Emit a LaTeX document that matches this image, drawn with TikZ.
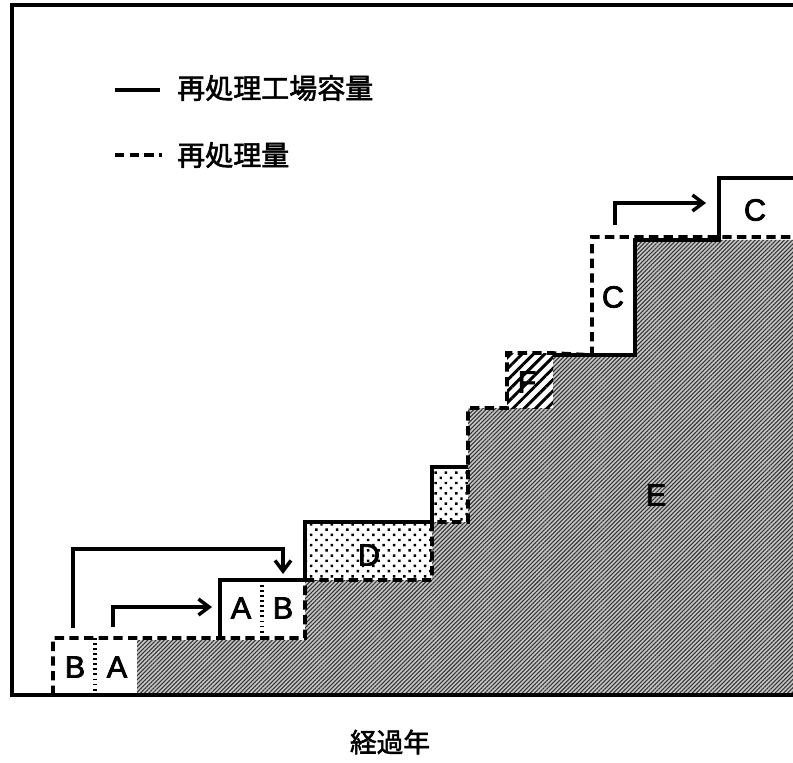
\documentclass[tikz,border=0pt]{standalone}
\usepackage{fontspec}
\setmainfont{Liberation Sans}
\newfontfamily\lat{Liberation Sans}[FakeBold=2.5]
\newfontfamily\cjk{Noto Sans CJK JP}[FakeBold=2]
\usetikzlibrary{patterns.meta,arrows.meta}
\begin{document}
\begin{tikzpicture}[x=0.75pt,y=-0.75pt,
  frame/.style={line width=3pt},
  capline/.style={line width=2.7pt, line join=miter},
  amtline/.style={line width=2.7pt, dash pattern=on 7pt off 4pt},
  divider/.style={line width=2.4pt, dash pattern=on 1.4pt off 2.4pt},
  arr/.style={line width=2.6pt, -{Straight Barb[length=8pt,width=12pt,line width=2.6pt]}},
  letter/.style={font=\lat\fontsize{23}{23}\selectfont, inner sep=0pt},
  jp/.style={font=\cjk\fontsize{21}{21}\selectfont, inner sep=0pt, anchor=west},
]
\useasboundingbox (0,0) rectangle (793,763);

% gray region E
\fill[preaction={fill=gray!45}, pattern={Lines[angle=45,distance=2.2pt,line width=0.8pt]}, pattern color=black!80]
  (137,695) -- (137,640) -- (305,640) -- (305,580) -- (432,580) -- (432,522)
  -- (468,522) -- (468,408) -- (553,408) -- (553,355) -- (635,355) -- (635,240)
  -- (793,240) -- (793,695) -- cycle;

% dotted boxes D and small one
\fill[pattern={Dots[distance=5.5pt,angle=45,radius=1.3pt]}] (305,522) rectangle (432,580);
\fill[pattern={Dots[distance=5.5pt,angle=45,radius=1.3pt]}] (432,467) rectangle (468,522);
% hatched box F
\fill[pattern={Lines[angle=45,distance=6pt,line width=2.2pt]}] (507,353) rectangle (553,408);

% frame
\draw[frame] (793,5) -- (12,5) -- (12,695) -- (793,695);

% capacity (solid)
\draw[capline] (220,638) -- (220,580) -- (305,580) -- (305,522) -- (432,522) -- (432,467) -- (468,467);
\draw[capline] (553,355) -- (635,355) -- (635,240) -- (719,240) -- (719,178) -- (793,178);

% reprocessing amount (dashed)
\draw[amtline] (53,695) -- (53,638) -- (305,638) -- (305,580) -- (432,580) -- (432,522)
  -- (468,522) -- (468,408) -- (507,408) -- (507,353) -- (553,353) -- (592,355) -- (592,237) -- (793,237);

% dividers
\draw[divider] (95,638) -- (95,695);
\draw[divider] (262,580) -- (262,637);

% arrows
\coordinate (a1s) at (113,627);
\coordinate (a1m) at (113,607);
\coordinate (a1e) at (212,607);
\draw[arr] (a1s) -- (a1m) -- (a1e);
\coordinate (a2s) at (73,628);
\coordinate (a2m) at (73,549);
\coordinate (a2n) at (283,549);
\coordinate (a2e) at (283,574);
\draw[arr] (a2s) -- (a2m) -- (a2n) -- (a2e);
\coordinate (a3s) at (615,225);
\coordinate (a3m) at (615,203);
\coordinate (a3e) at (706,203);
\draw[arr] (a3s) -- (a3m) -- (a3e);

% letters
\node[letter] (lB1) at (75,667) {B};
\node[letter] (lA1) at (117,667) {A};
\node[letter] (lA2) at (241,608) {A};
\node[letter] (lB2) at (283,608) {B};
\node[letter] (lD) at (369,555) {D};
\node[letter] (lF) at (527,382) {F};
\node[letter] (lC1) at (613,297) {C};
\node[letter] (lC2) at (755,210) {C};
\node[letter] (lE) at (656,495) {E};

% legend
\coordinate (k1a) at (115,90);
\coordinate (k1b) at (160,90);
\draw[capline] (k1a) -- (k1b);
\node[jp] (leg1) at (177,88) {再処理工場容量};
\coordinate (k2a) at (115,155);
\coordinate (k2b) at (162,155);
\draw[amtline] (k2a) -- (k2b);
\node[jp] (leg2) at (177,155) {再処理量};

% axis label
\node[font=\cjk\fontsize{20}{20}\selectfont, inner sep=0pt] (xl) at (390,742) {経過年};
\end{tikzpicture}
\end{document}
